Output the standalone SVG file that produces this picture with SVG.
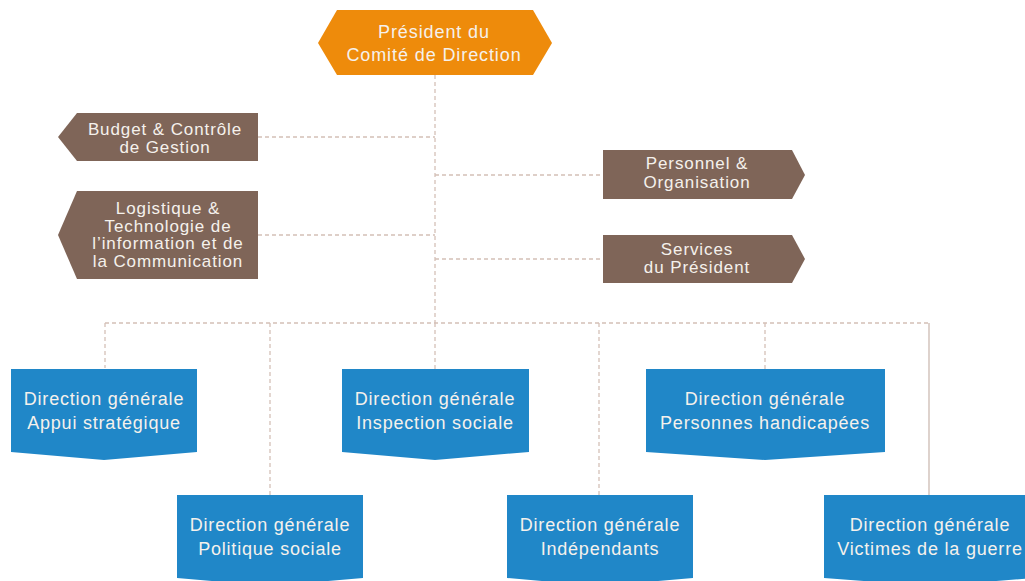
<svg xmlns="http://www.w3.org/2000/svg" width="1025" height="581" viewBox="0 0 1025 581">
<style>
.orange{fill:#EE8B0B}
.brown{fill:#7F6558}
.blue{fill:#2087C8}
.t{font-family:"Liberation Sans",Arial,sans-serif;fill:#F5F1EC;text-anchor:middle}
.tb{font-size:18px;letter-spacing:0.8px}
.ts{font-size:17px;letter-spacing:0.9px}
.to{font-size:18px;letter-spacing:0.9px}
.dash{stroke:#D4C0B7;stroke-width:1.3;fill:none;stroke-dasharray:4 3}
.solid{stroke:#CDBBB2;stroke-width:1.3;fill:none}
</style>
<rect width="1025" height="581" fill="#FFFFFF"/>
<g id="connectors">
<path class="dash" d="M435 75V323"/>
<path class="dash" d="M258 137H435"/>
<path class="dash" d="M435 175H603"/>
<path class="dash" d="M258 235H435"/>
<path class="dash" d="M435 259H603"/>
<path class="dash" d="M105 323H929"/>
<path class="dash" d="M105 323V368"/>
<path class="dash" d="M270 323V495"/>
<path class="dash" d="M435 323V369"/>
<path class="dash" d="M599 323V495"/>
<path class="dash" d="M765 323V369"/>
<path class="solid" d="M929 323V495"/>
</g>
<g id="president">
<polygon class="orange" points="318,43 337,10 533,10 552,43 533,75 337,75"/>
<text class="t to" x="434" y="38">Président du</text>
<text class="t to" x="434" y="61">Comité de Direction</text>
</g>
<g id="budget">
<polygon class="brown" points="58,137 77,113 258,113 258,161 77,161"/>
<text class="t ts" x="165" y="135">Budget &amp; Contrôle</text>
<text class="t ts" x="165" y="153">de Gestion</text>
</g>
<g id="logistique">
<polygon class="brown" points="58,235 77,191 258,191 258,279 77,279"/>
<text class="t ts" x="168" y="214">Logistique &amp;</text>
<text class="t ts" x="168" y="232">Technologie de</text>
<text class="t ts" x="168" y="249">l’information et de</text>
<text class="t ts" x="168" y="267">la Communication</text>
</g>
<g id="personnel">
<polygon class="brown" points="603,150 792,150 805,175 792,199 603,199"/>
<text class="t ts" x="697" y="169">Personnel &amp;</text>
<text class="t ts" x="697" y="188">Organisation</text>
</g>
<g id="services">
<polygon class="brown" points="603,235 792,235 805,259 792,283 603,283"/>
<text class="t ts" x="697" y="255">Services</text>
<text class="t ts" x="697" y="273">du Président</text>
</g>
<g id="appui">
<polygon class="blue" points="11,369 197,369 197,452 104,460 11,452"/>
<text class="t tb" x="104" y="405">Direction générale</text>
<text class="t tb" x="104" y="429">Appui stratégique</text>
</g>
<g id="inspection">
<polygon class="blue" points="342,369 529,369 529,452 435,460 342,452"/>
<text class="t tb" x="435" y="405">Direction générale</text>
<text class="t tb" x="435" y="429">Inspection sociale</text>
</g>
<g id="personnes">
<polygon class="blue" points="646,369 885,369 885,452 765,460 646,452"/>
<text class="t tb" x="765" y="405">Direction générale</text>
<text class="t tb" x="765" y="429">Personnes handicapées</text>
</g>
<g id="politique">
<polygon class="blue" points="177,495 363,495 363,578 270,586 177,578"/>
<text class="t tb" x="270" y="531">Direction générale</text>
<text class="t tb" x="270" y="555">Politique sociale</text>
</g>
<g id="independants">
<polygon class="blue" points="507,495 693,495 693,578 600,586 507,578"/>
<text class="t tb" x="600" y="531">Direction générale</text>
<text class="t tb" x="600" y="555">Indépendants</text>
</g>
<g id="victimes">
<polygon class="blue" points="824,495 1036,495 1036,578 930,586 824,578"/>
<text class="t tb" x="930" y="531">Direction générale</text>
<text class="t tb" x="930" y="555">Victimes de la guerre</text>
</g>
</svg>
